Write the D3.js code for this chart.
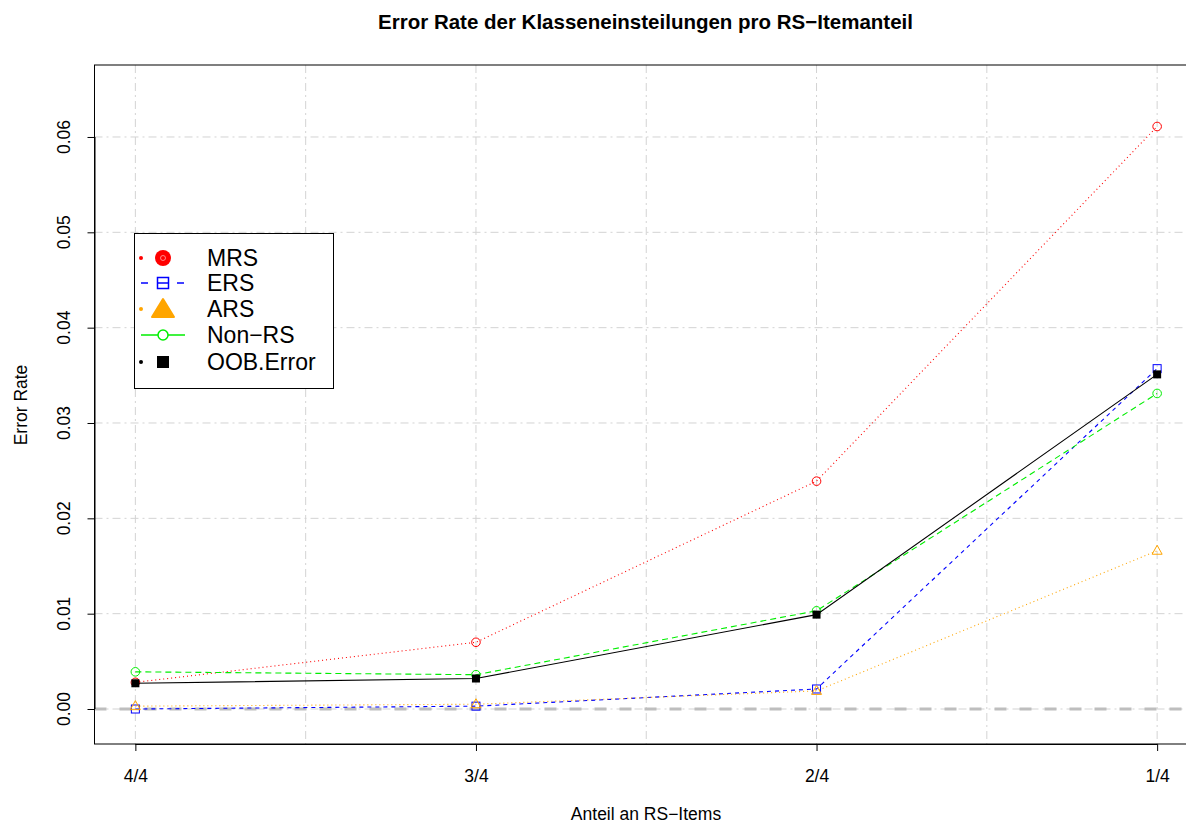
<!DOCTYPE html>
<html><head><meta charset="utf-8">
<script src="https://cdn.jsdelivr.net/npm/d3@7"></script>
<style>body{margin:0;background:#fff}svg{display:block;font-family:"Liberation Sans",Arial,sans-serif}</style>
</head><body>
<script>
const categories = ["4/4","3/4","2/4","1/4"];
const mrs    = [0.0028, 0.0070, 0.0239, 0.0611];
const ers    = [0.0000, 0.0003, 0.0021, 0.0357];
const ars    = [0.0003, 0.0005, 0.0019, 0.0166];
const nonrs  = [0.0039, 0.0036, 0.0103, 0.0331];
const oob    = [0.0027, 0.0032, 0.0099, 0.0351];
const yTicks = [0, 0.01, 0.02, 0.03, 0.04, 0.05, 0.06];
const seriesNames = ["MRS","ERS","ARS","Non\u2212RS","OOB.Error"];

const W = 1186, H = 825;
const svg = d3.select("body").append("svg").attr("width", W).attr("height", H);
const L = 94.5, R = 1198, T = 65, B = 744;
const x = d3.scaleLinear().domain([0.88, 4.12]).range([L, R]);
const y = d3.scaleLinear().domain([-0.00367, 0.06755]).range([B, T]);
const xi = i => x(i + 1);
const FONT = "Liberation Sans, Arial, sans-serif";

// grid
const g = svg.append("g");
[1,1.5,2,2.5,3,3.5,4].forEach(v => g.append("line").attr("x1", x(v)).attr("x2", x(v)).attr("y1", T).attr("y2", B)
  .attr("stroke", "#d3d3d3").attr("stroke-width", 1).attr("stroke-dasharray", "8,4,2,4"));
yTicks.forEach(v => g.append("line").attr("x1", L).attr("x2", R).attr("y1", y(v)).attr("y2", y(v))
  .attr("stroke", "#d3d3d3").attr("stroke-width", 1).attr("stroke-dasharray", "8,4,2,4"));
// h=0 line
svg.append("line").attr("x1", L).attr("x2", R).attr("y1", y(0)).attr("y2", y(0))
  .attr("stroke", "#bebebe").attr("stroke-width", 3).attr("stroke-dasharray", "12,13");

const line = d3.line().x((d, i) => xi(i)).y(d => y(d));
const series = [
  {v: mrs, c: "#ff0000", dash: "1,3", sym: "circle"},
  {v: ers, c: "#0000ff", dash: "4,4", sym: "square"},
  {v: ars, c: "#ffa500", dash: "1,3", sym: "triangle"},
  {v: nonrs, c: "#00ee00", dash: "6,4", sym: "circle"},
  {v: oob, c: "#000000", dash: null, sym: "fsquare"}
];
function drawSym(sel, sym, c, cx, cy) {
  if (sym === "circle") sel.append("circle").attr("cx", cx).attr("cy", cy).attr("r", 4.3).attr("fill", "none").attr("stroke", c).attr("stroke-width", 1);
  else if (sym === "square") sel.append("rect").attr("x", cx-4).attr("y", cy-4).attr("width", 8).attr("height", 8).attr("fill", "none").attr("stroke", c).attr("stroke-width", 1);
  else if (sym === "triangle") sel.append("path").attr("d", `M${cx},${cy-5.5}L${cx+5},${cy+3.5}L${cx-5},${cy+3.5}Z`).attr("fill", "none").attr("stroke", c).attr("stroke-width", 1);
  else if (sym === "fsquare") sel.append("rect").attr("x", cx-4).attr("y", cy-4).attr("width", 8).attr("height", 8).attr("fill", c);
}
series.forEach(s => {
  const p = svg.append("path").datum(s.v).attr("d", line).attr("fill", "none").attr("stroke", s.c).attr("stroke-width", 1.1);
  if (s.dash) p.attr("stroke-dasharray", s.dash);
  s.v.forEach((d, i) => drawSym(svg, s.sym, s.c, xi(i), y(d)));
});

// box
svg.append("rect").attr("x", L).attr("y", T).attr("width", R - L).attr("height", B - T).attr("fill", "none").attr("stroke", "#000").attr("stroke-width", 1);

// x axis
const xAxis = d3.axisBottom(x).tickValues([1,2,3,4]).tickFormat(d => categories[d-1]).tickSize(7).tickSizeOuter(0);
const xa = svg.append("g").attr("transform", `translate(0,${B})`).call(xAxis);
xa.select(".domain").attr("d", `M${x(1)},0.5H${x(4)}`);
xa.selectAll("text").attr("font-size", 17.5).attr("font-family", FONT).attr("y", 38).attr("dy", null);
// y axis
const yAxis = d3.axisLeft(y).tickValues(yTicks).tickFormat(d3.format(".2f")).tickSize(7).tickSizeOuter(0);
const ya = svg.append("g").attr("transform", `translate(${L},0)`).call(yAxis);
ya.select(".domain").attr("d", `M0.5,${y(0)}V${y(0.06)}`);
ya.selectAll(".tick").attr("transform", null);
ya.selectAll(".tick line").attr("y1", d => y(d)+0.5).attr("y2", d => y(d)+0.5);
ya.selectAll("text").attr("font-size", 17.5).attr("font-family", FONT)
  .attr("transform", d => `translate(-24.5,${y(d)}) rotate(-90)`).attr("x", 0).attr("y", 0).attr("dy", null).attr("text-anchor", "middle");

// titles
svg.append("text").attr("x", 645.5).attr("y", 29).attr("text-anchor", "middle").attr("font-weight", "bold").attr("font-size", 20.5)
  .text("Error Rate der Klasseneinsteilungen pro RS\u2212Itemanteil");
svg.append("text").attr("x", 646).attr("y", 820).attr("text-anchor", "middle").attr("font-size", 17.5).text("Anteil an RS\u2212Items");
svg.append("text").attr("transform", "translate(27,405) rotate(-90)").attr("text-anchor", "middle").attr("font-size", 17.5).text("Error Rate");

// legend
const lg = svg.append("g");
lg.append("rect").attr("x", 134.5).attr("y", 233.5).attr("width", 199).attr("height", 155).attr("fill", "#fff").attr("stroke", "#000");
const ly = [258, 283, 309, 335, 362];
series.forEach((s, i) => {
  const yy = ly[i];
  if (i === 3) {
    lg.append("line").attr("x1", 141).attr("x2", 185).attr("y1", yy).attr("y2", yy).attr("stroke", s.c).attr("stroke-width", 1.5);
    lg.append("circle").attr("cx", 163).attr("cy", yy).attr("r", 5).attr("fill", "#fff").attr("stroke", s.c).attr("stroke-width", 1.5);
  } else if (i === 1) {
    lg.append("line").attr("x1", 141).attr("x2", 148).attr("y1", yy).attr("y2", yy).attr("stroke", s.c).attr("stroke-width", 1.5);
    lg.append("line").attr("x1", 177).attr("x2", 184).attr("y1", yy).attr("y2", yy).attr("stroke", s.c).attr("stroke-width", 1.5);
    lg.append("rect").attr("x", 157.5).attr("y", yy-5.5).attr("width", 11).attr("height", 11).attr("fill", "none").attr("stroke", s.c).attr("stroke-width", 1.5);
    lg.append("line").attr("x1", 158).attr("x2", 168).attr("y1", yy).attr("y2", yy).attr("stroke", s.c).attr("stroke-width", 1.5);
  } else {
    lg.append("circle").attr("cx", 141).attr("cy", yy).attr("r", 2).attr("fill", s.c);
    if (i === 0) {
      lg.append("circle").attr("cx", 163).attr("cy", yy).attr("r", 8).attr("fill", s.c);
      lg.append("circle").attr("cx", 163).attr("cy", yy).attr("r", 2.5).attr("fill", "none").attr("stroke", "#ffaaaa").attr("stroke-width", 0.8);
    } else if (i === 2) {
      lg.append("path").attr("d", `M163,${yy-10}L174,${yy+8}L152,${yy+8}Z`).attr("fill", s.c).attr("stroke", s.c).attr("stroke-linejoin", "round").attr("stroke-width", 2);
    } else {
      lg.append("rect").attr("x", 157).attr("y", yy-6).attr("width", 12).attr("height", 12).attr("fill", s.c);
    }
  }
  lg.append("text").attr("x", 207).attr("y", yy).attr("dy", "0.36em").attr("font-size", 23).text(seriesNames[i]);
});
</script>
</body></html>
